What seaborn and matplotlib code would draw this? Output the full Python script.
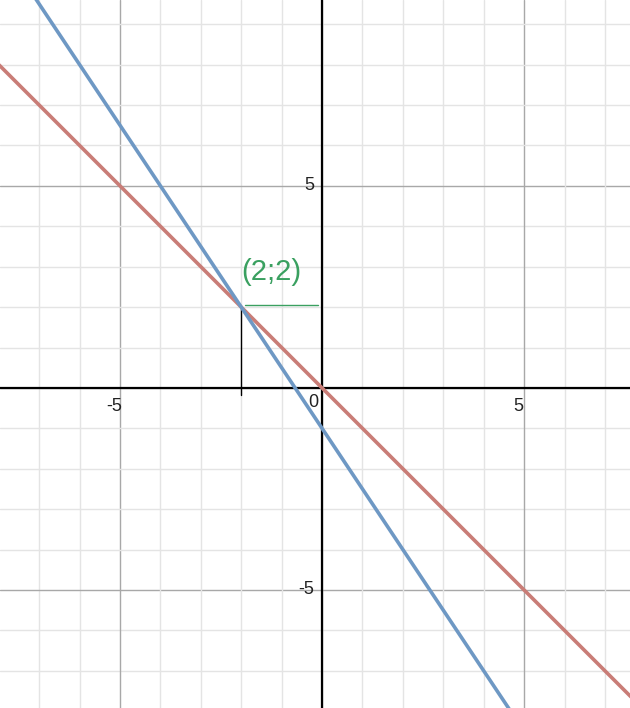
import numpy as np
import pandas as pd
import seaborn as sns
from matplotlib import pyplot as plt

# two lines: y = -x (red) and y = -1.5x - 1 (blue)
x_vals = [-8.0, 8.0]
red_y = [8.0, -8.0]
blue_y = [11.0, -13.0]
point = (-2, 2)
point_label = "(2;2)"
tick_vals = [-5, 5]

sns.set_style("white")
plt.rcParams['font.family'] = ['Liberation Sans', 'DejaVu Sans']

fig = plt.figure(figsize=(6.3, 7.08), dpi=100)
ax = fig.add_axes([0, 0, 1, 1])
ax.set_xlim(-7.97, 7.62)
ax.set_ylim(-7.92, 9.60)

# grid
for v in range(-8, 10):
    col = '#a8a8a8' if v % 5 == 0 else '#e4e4e4'
    ax.axvline(v, color=col, lw=1, zorder=0)
    ax.axhline(v, color=col, lw=1, zorder=0)
ax.axhline(0, color='black', lw=1.6, zorder=1)
ax.axvline(0, color='black', lw=1.6, zorder=1)

df = pd.DataFrame({'x': x_vals * 2,
                   'y': red_y + blue_y,
                   'line': ['red'] * 2 + ['blue'] * 2})
sns.lineplot(data=df, x='x', y='y', hue='line',
             palette={'red': '#c97d77', 'blue': '#6e98c4'},
             lw=2.6, legend=False, ax=ax, zorder=3)

# marker lines at the intersection
ax.plot([point[0], point[0]], [-0.18, point[1]], color='black', lw=1, zorder=2)
ax.plot([point[0] + 0.1, -0.1], [point[1] + 0.05] * 2, color='#3aa060', lw=1, zorder=2)
ax.text(-2.0, 2.67, point_label, color='#3aa060', fontsize=21,
        ha='left', va='baseline')

# tick labels
for t in tick_vals:
    ax.text(t - 0.15, -0.45, str(t), fontsize=13, ha='center', va='center', color='#222222')
    ax.text(-0.2, t, str(t), fontsize=13, ha='right', va='center', color='#222222')
ax.text(-0.1, -0.35, '0', fontsize=13, ha='right', va='center', color='#222222')

ax.set_xlabel('')
ax.set_ylabel('')
ax.set_xticks([])
ax.set_yticks([])
for s in ax.spines.values():
    s.set_visible(False)

plt.savefig('out.png', dpi=100)
